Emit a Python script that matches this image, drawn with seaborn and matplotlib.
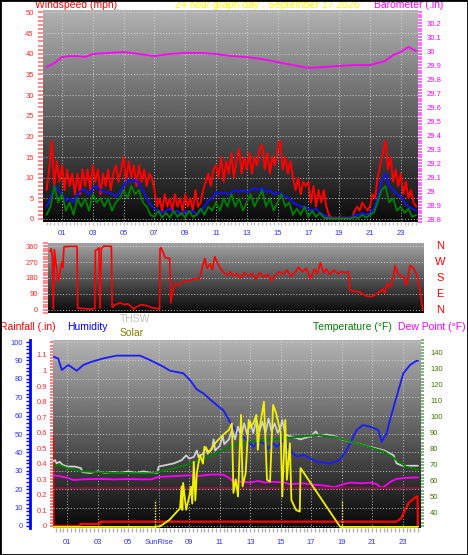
import numpy as np
import pandas as pd
import matplotlib
matplotlib.use("Agg")
import matplotlib.pyplot as plt
import matplotlib.transforms as mtransforms
from matplotlib.ticker import MultipleLocator
from matplotlib.patches import Rectangle
import seaborn as sns

# ------------------------------------------------------------------ data
title_text = "24 hour graph day : September 17 2026"
hour_ticks = [1, 3, 5, 7, 9, 11, 13, 15, 17, 19, 21, 23]
top_hour_labels = ['01', '03', '05', '07', '09', '11', '13', '15', '17', '19', '21', '23']
bottom_hour_labels = ['01', '03', '05', 'SunRise', '09', '11', '13', '15', '17', '19', '21', '23']

# wind gusts (mph), one value every 10 minutes from 00:00 to 24:00
gust_hours = np.arange(0, 24.001, 1 / 6)
wind_high = [7, 12, 19, 8, 14, 9,
             13, 7, 12, 8, 11, 6,
             11, 6, 12, 8, 12, 7,
             13, 9, 12, 6, 11, 8,
             12, 7, 11, 13, 9, 12,
             15, 9, 14, 10, 13, 8,
             13, 9, 12, 8, 11, 10,
             7, 3, 5, 2, 6, 3,
             5, 2, 6, 3, 5, 2,
             6, 3, 5, 2, 7, 3,
             4, 7, 9, 11, 8, 12,
             13, 10, 15, 9, 14, 11,
             16, 10, 14, 17, 11, 15,
             12, 16, 11, 15, 13, 17,
             18, 12, 16, 11, 15, 13,
             17, 19, 12, 15, 11, 14,
             10, 7, 10, 6, 9, 8,
             9, 4, 8, 3, 7, 4,
             7, 3, 1, 0.3, 0.3, 0.3,
             0.3, 0.3, 0.3, 0.3, 0.3, 0.3,
             2, 3, 2, 4, 3, 2,
             3, 6, 5, 10, 13, 16,
             19, 12, 15, 9, 12, 8,
             11, 6, 9, 5, 7, 4,
             3]

# average and low wind speed (mph), one value every 15 minutes
wind_hours = np.arange(0, 24.01, 0.25)
wind_avg = [3, 5, 8, 7, 6, 4.5, 5, 4,
            6, 7, 7, 6, 7.5, 8, 7, 6.5,
            6.5, 6, 5.5, 6.5, 8, 9.5, 9, 9.5,
            8.5, 7, 5, 3.5, 2.5, 2, 1.5, 2,
            2.5, 1.5, 2, 1, 2, 1.5, 2, 1,
            2, 3, 4.5, 5, 6.5, 6, 6.5, 6,
            6.5, 7, 6.5, 7, 6.5, 7, 7.5, 7,
            7.5, 6.5, 7, 6, 6.5, 6, 5.5, 5,
            4, 3.5, 3, 3, 2.5, 2, 2.5, 1.5,
            1, 0.5, 0.2, 0.2, 0.2, 0.2, 0.2, 0.3,
            1, 1, 1.5, 1, 1.5, 2.5, 5, 9,
            11, 8, 7, 6, 5.5, 4, 3, 2.5,
            2]
wind_low = [1, 3, 8, 4, 6, 2, 4, 1,
            5, 3, 5, 2, 6, 4, 5, 3,
            5, 2, 4, 5, 7, 5, 8, 6,
            7, 4, 3, 1, 0.5, 2, 0.3, 1.5,
            0.3, 2, 0.5, 1.5, 0.3, 2, 0.5, 1,
            2.5, 1, 3, 2, 4, 2, 5, 3,
            6, 3, 5, 2, 4, 6, 3, 5,
            7, 3, 5, 2, 4, 6, 3, 4,
            1, 2.5, 1, 3, 0.5, 2, 0.5, 1.5,
            0.3, 0.2, 0.1, 0.1, 0.1, 0.1, 0.1, 0.1,
            0.5, 0.2, 1, 0.3, 1, 1.5, 4, 7,
            8, 4, 5, 2, 3, 1.5, 2.5, 0.5,
            1]

# barometer (in)
baro_hours = [0, 0.5, 1, 1.5, 2, 2.5, 3, 4, 5, 6, 7, 8, 9, 10, 11, 12, 13, 14,
              15, 16, 17, 18, 19, 20, 21, 22, 22.5, 23, 23.5, 24]
baro_inches = [29.886, 29.914, 29.957, 29.964, 29.964, 29.957, 29.979, 29.986,
               29.993, 29.979, 29.964, 29.979, 29.986, 29.986, 29.979, 29.964,
               29.957, 29.943, 29.921, 29.9, 29.879, 29.886, 29.893, 29.9, 29.9,
               29.929, 29.971, 29.993, 30.029, 30.0]
baro_ticks = [28.8, 28.9, 29.0, 29.1, 29.2, 29.3, 29.4, 29.5, 29.6, 29.7, 29.8,
              29.9, 30.0, 30.1, 30.2]
wind_ticks = [0, 5, 10, 15, 20, 25, 30, 35, 40, 45, 50]

# wind direction (degrees)
dir_hours = [0.0, 0.08, 0.15, 0.21, 0.28, 0.4, 0.54, 0.62, 0.7, 0.75, 0.82, 0.9,
             1.3, 1.74, 1.78, 2.2, 2.6, 2.88, 2.92, 3.05, 3.15, 3.22, 3.3, 3.4, 3.5, 3.95,
             4.0, 4.2, 4.5, 4.8, 5.0, 5.2, 5.4, 5.6, 5.9, 6.2, 6.5, 6.8, 7.05,
             7.08, 7.15, 7.3, 7.4, 7.7, 7.77, 7.9, 8.05, 8.3, 8.6, 8.9, 9.2, 9.45, 9.65,
             9.8, 9.97, 10.1, 10.3, 10.45, 10.6, 10.8, 11.0, 11.2, 11.4, 11.6, 11.8,
             12.0, 12.25, 12.5, 12.75, 13.0, 13.25, 13.5, 13.75, 14.0, 14.25, 14.5, 14.75,
             15.0, 15.25, 15.5, 15.75, 16.0, 16.25, 16.5, 16.75, 17.0, 17.2, 17.4, 17.6, 17.8,
             18.0, 18.25, 18.5, 18.75, 19.0, 19.2, 19.3, 19.6, 19.95, 20.2, 20.4, 20.7,
             21.0, 21.2, 21.4, 21.55, 21.7, 21.9, 22.1, 22.2, 22.4, 22.6, 22.8, 22.95,
             23.17, 23.35, 23.6, 23.8, 24.0]
dir_degrees = [330, 345, 300, 5, 340, 250, 160, 200, 240, 270, 240, 356,
               358, 358, 10, 8, 5, 8, 335, 340, 350, 10, 345, 355, 360, 358,
               15, 30, 40, 30, 35, 20, 5, 20, 30, 25, 15, 10, 5,
               345, 350, 320, 295, 290, 40, 110, 150, 140, 165, 160, 175, 170, 185,
               240, 290, 235, 260, 225, 300, 260, 230, 210, 195, 215, 190,
               205, 180, 210, 190, 205, 175, 210, 185, 200, 165, 195, 215,
               200, 225, 190, 210, 240, 215, 235, 175, 230, 205, 265, 210, 230,
               200, 225, 205, 215, 210, 215, 110, 105, 100, 85, 78, 75,
               90, 100, 120, 95, 150, 130, 190, 250, 200, 190, 180, 140,
               250, 240, 200, 120, 0]
dir_ticks = [0, 90, 180, 270, 360]
compass_labels = ['N', 'W', 'S', 'E', 'N']
compass_degrees = [360, 270, 180, 90, 0]

# humidity (%)
hum_hours = [0, 0.13, 0.41, 0.64, 1.07, 1.62, 2.05, 2.6, 3.37, 4.24, 5.77, 6.43, 7.3,
             7.74, 8.61, 9.05, 9.49, 9.92, 10.36, 10.8, 11.23, 11.67, 12.11, 12.77,
             13.2, 13.5, 13.85, 14.2, 14.5, 14.73, 15.17, 15.6, 16.05, 16.5, 16.92,
             17.36, 18.23, 18.89, 19.32, 19.65, 19.98, 20.41, 20.85, 21.4, 21.62,
             21.95, 22.16, 22.6, 23.04, 23.48, 23.91, 24.0]
hum_pct = [92, 92, 91, 84.8, 87.5, 84.4, 87.5, 89.3, 91.1, 92.6, 92.6, 90.2, 86.6,
           84.4, 83, 79.3, 74.3, 72.1, 68.9, 65.8, 63, 56.7, 51.3, 46.7,
           43.1, 46, 45, 42, 45, 43, 46.7, 41.3, 37.7, 38.6, 36.8,
           35, 34, 35.9, 41.3, 46.7, 52.2, 54.9, 54, 52.2, 45.8,
           50.4, 57.6, 70.3, 83, 87.5, 89.8, 89.8]
hum_ticks = [0, 10, 20, 30, 40, 50, 60, 70, 80, 90, 100]

# rainfall (in)
rain_hours = [0.07, 0.1, 1.84, 1.85, 3.15, 3.16, 22.6, 22.9, 23.4, 23.9, 23.97, 24.0]
rain_inches = [0.58, 0, 0, 0.013, 0.013, 0.028, 0.028, 0.05, 0.15, 0.19, 0.19, 0]
rain_ticks = [0, 0.1, 0.2, 0.3, 0.4, 0.5, 0.6, 0.7, 0.8, 0.9, 1.0, 1.1]

# temperature, THSW, dew point (F)
temp_hours = [0, 0.5, 1.0, 2.0, 3.0, 4.0, 5.0, 6.0, 6.6, 7.1, 8.0, 8.6, 9.7, 10.8,
              11.9, 13.0, 14.1, 15.2, 16.3, 17.4, 18.5, 19.6, 20.7, 21.8, 22.6, 23.2, 24.0]
temp_f = [69, 70, 68, 66, 65.5, 65, 65, 64.8, 64.8, 66, 68, 69.4, 73, 77.3,
          82.5, 84.6, 85.6, 86.7, 87.7, 88.7, 87.5, 84.6, 81.4, 78.3, 73.1, 69, 67]
thsw_hours = [0, 0.2, 0.3, 0.5, 0.7, 1.0, 1.5, 1.9, 2.0, 2.5, 3.0, 3.5, 4.0, 4.5, 5.0,
              5.5, 6.0, 6.5, 6.9, 7.0, 7.5, 8.0, 8.5, 8.8, 9.0, 9.3, 9.5, 9.6, 9.9, 10.1,
              10.2, 10.5, 10.6, 10.7, 11.0, 11.2, 11.3, 11.6, 11.8, 12.0, 12.2, 12.4, 12.6,
              12.8, 13.0, 13.2, 13.4, 13.6, 13.8, 14.0, 14.2, 14.4, 14.6, 14.8, 15.0, 15.1,
              15.3, 15.6, 16.0, 16.3, 16.6, 17.0, 17.3, 17.5, 18.0, 18.5, 19.0, 19.6, 20.2,
              20.7, 21.2, 21.8, 22.2, 22.4, 22.6, 23.0, 24.0]
thsw_f = [72, 73, 71, 72, 70, 69, 69, 68, 65.5, 65, 66, 65, 65.5, 65, 66,
          65, 66, 65, 65, 69, 70, 71, 73, 76, 74, 75, 79, 75, 77, 81,
          77, 80, 86, 79, 82, 88, 83, 86, 92, 86, 94, 88, 96,
          89, 97, 90, 98, 91, 97, 90, 99, 91, 96, 90, 94, 98,
          89, 88, 87, 86, 87, 88, 91, 88, 89, 88, 86, 84.5, 83,
          81.5, 80.5, 79, 77, 76, 71, 69.5, 69.5]
dew_hours = [0, 0.5, 1.0, 1.4, 2.0, 3.0, 4.0, 5.0, 6.0, 6.5, 7.0, 8.0, 9.0, 9.5, 10.4,
             11.2, 11.6, 11.9, 12.5, 13.0, 13.5, 14.0, 14.5, 15.2, 15.6, 16.5, 17.4, 18.0,
             18.5, 19.1, 19.6, 20.3, 20.9, 21.3, 21.6, 21.8, 22.2, 22.6, 23.3, 24.0]
dew_f = [63.7, 63, 62, 60.6, 61, 61.3, 61, 61.2, 61, 61, 62.5, 63, 63.5, 63, 64,
         64, 62, 59.6, 59.5, 59, 60, 59, 59.5, 59, 58, 58.5, 57.5, 57,
         56, 58, 59, 58.5, 59, 58, 55.6, 56.5, 59.5, 61.3, 62, 62.2]
ref_line_f = 55.4
temp_ticks = [40, 50, 60, 70, 80, 90, 100, 110, 120, 130, 140]

# solar radiation (W/m2)
solar_hours = [0, 6.75, 7.1, 7.7, 8.1, 8.4, 8.5, 8.55, 8.6, 8.8, 9.05, 9.1, 9.2, 9.3,
               9.4, 9.5, 9.7, 9.9, 10.0, 10.3, 10.7, 11.1, 11.6, 11.8, 11.9, 12.05, 12.2,
               12.4, 12.5, 12.7, 12.9, 13.0, 13.2, 13.4, 13.5, 13.6, 13.9, 14.1, 14.3,
               14.5, 14.7, 15.0, 15.1, 15.3, 15.4, 15.6, 15.7, 15.8, 16.0, 16.25, 16.3,
               18.9, 24.0]
solar_wm2 = [0, 0, 5, 45, 88, 120, 259, 109, 282, 110, 218, 259, 150, 419,
             170, 346, 462, 406, 515, 480, 537, 580, 623, 665, 218, 306, 195,
             719, 260, 346, 687, 640, 665, 719, 495, 623, 804, 302, 290,
             783, 730, 600, 195, 687, 302, 537, 173, 152, 109, 98, 378,
             0, 0]
sunrise_hour = 6.75
sunset_hour = 19.0

# ------------------------------------------------------------------ style
sns.set_theme(style="white")
plt.rcParams['font.family'] = ['Liberation Sans', 'DejaVu Sans']

W, H = 468, 555
fig = plt.figure(figsize=(W / 100, H / 100), dpi=100, facecolor='white')


def px_rect(l, t, r, b):
    return [l / W, 1 - b / H, (r - l) / W, (b - t) / H]


def shade(ax, top, bottom):
    grad = np.linspace(top, bottom, 256).reshape(-1, 1)
    ax.imshow(grad, cmap='gray', vmin=0, vmax=1, aspect='auto', extent=[0, 1, 0, 1],
              transform=ax.transAxes, zorder=0, interpolation='bilinear')


def hide_spines(ax):
    for s in ax.spines.values():
        s.set_visible(False)


TICK = 5.5
GRID = dict(color='#dcdcdc', linewidth=0.7, linestyle=(0, (1, 2)), alpha=0.85)

# ------------------------------------------------------------------ top panel
ax1 = fig.add_axes(px_rect(43, 10, 418, 222))
shade(ax1, 0.70, 0.04)
gust_df = pd.DataFrame({'hour': gust_hours, 'high': wind_high})
wind_df = pd.DataFrame({'hour': wind_hours, 'avg': wind_avg, 'low': wind_low})
sns.lineplot(data=gust_df, x='hour', y='high', ax=ax1, color='#ff0000', linewidth=1.4, estimator=None)
sns.lineplot(data=wind_df, x='hour', y='avg', ax=ax1, color='#1010ff', linewidth=1.3, estimator=None)
sns.lineplot(data=wind_df, x='hour', y='low', ax=ax1, color='#008000', linewidth=1.3, estimator=None)
ax1.set_xlim(-0.234, 24.12)
ax1.set_ylim(-0.73, 50.6)
ax1.set_xlabel('')
ax1.set_ylabel('')
ax1.set_yticks(wind_ticks)
ax1.set_yticklabels([str(v) for v in wind_ticks])
ax1.yaxis.set_minor_locator(MultipleLocator(1))
ax1.tick_params(axis='y', which='both', left=True, length=3.6, width=1.3, color='#ff8080',
                labelcolor='#ff2a2a', labelsize=TICK, pad=3, direction='out')
ax1.set_xticks(hour_ticks)
ax1.set_xticklabels(top_hour_labels)
ax1.xaxis.set_minor_locator(MultipleLocator(0.25))
ax1.tick_params(axis='x', which='both', bottom=True, length=2.2, width=1, color='#c0c0c0',
                labelcolor='#3030ff', labelsize=TICK, pad=3.9, direction='out')
ax1.grid(True, which='major', **GRID)
hide_spines(ax1)

ax1b = ax1.twinx()
sns.lineplot(x=baro_hours, y=baro_inches, ax=ax1b, color='#ff00ff', linewidth=1.3, estimator=None)
ax1b.set_ylim(28.779, 30.293)
ax1b.set_ylabel('')
ax1b.set_yticks(baro_ticks)
ax1b.set_yticklabels([f"{v:g}" for v in baro_ticks])
ax1b.yaxis.set_minor_locator(MultipleLocator(0.02))
ax1b.tick_params(axis='y', which='both', right=True, length=3.2, width=1.3, color='#ff60ff',
                 labelcolor='#ff00ff', labelsize=TICK, pad=3, direction='out')
ax1b.grid(False)
hide_spines(ax1b)

fig.text(35 / W, 1 - 0.5 / H, "Windspeed (mph)", color='#ff0000', fontsize=7.5, ha='left', va='top')
fig.text(267.5 / W, 1 - 0.5 / H, title_text, color='#ffff00', fontsize=7.5, ha='center', va='top')
fig.text(374 / W, 1 - 0.5 / H, "Barometer (.in)", color='#ff00ff', fontsize=7.5, ha='left', va='top')

# ------------------------------------------------------------------ wind direction panel
ax2 = fig.add_axes(px_rect(48, 243, 424, 313))
shade(ax2, 0.64, 0.03)
sns.lineplot(x=dir_hours, y=dir_degrees, ax=ax2, color='#ff0000', linewidth=1.2, estimator=None)
ax2.set_xlim(-0.13, 24.07)
ax2.set_ylim(-16.9, 376.9)
ax2.set_ylabel('')
ax2.set_xticks([])
ax2.set_yticks(dir_ticks)
ax2.set_yticklabels([str(v) for v in dir_ticks])
ax2.yaxis.set_minor_locator(MultipleLocator(15))
ax2.tick_params(axis='y', which='both', left=True, length=3.6, width=1.3, color='#ff8080',
                labelcolor='#ff2a2a', labelsize=TICK, pad=3.6, direction='out')
ax2.yaxis.grid(True, **GRID)
hide_spines(ax2)
blend2 = mtransforms.blended_transform_factory(ax2.transAxes, ax2.transData)
for lab, deg in zip(compass_labels, compass_degrees):
    ax2.text((440 - 48) / 376, deg, lab, transform=blend2, color='#ff0000', fontsize=8,
             ha='center', va='center', clip_on=False)

# ------------------------------------------------------------------ bottom panel
ax3 = fig.add_axes(px_rect(53, 340, 421, 528))
shade(ax3, 0.70, 0.03)
sns.lineplot(x=rain_hours, y=rain_inches, ax=ax3, color='#ff0000', linewidth=1.6, estimator=None, sort=False)
ax3.set_xlim(0.066, 24.2)
ax3.set_ylim(-0.0129, 1.196)
ax3.set_ylabel('')
ax3.set_yticks(rain_ticks)
ax3.set_yticklabels([f"{v:g}" for v in rain_ticks])
ax3.yaxis.set_minor_locator(MultipleLocator(0.02))
ax3.tick_params(axis='y', which='both', left=True, length=2.2, width=1.3, color='#ff7070',
                labelcolor='#ff2a2a', labelsize=TICK, pad=2.2, direction='out')
ax3.set_xticks(hour_ticks)
ax3.set_xticklabels(bottom_hour_labels)
ax3.xaxis.set_minor_locator(MultipleLocator(0.25))
ax3.tick_params(axis='x', which='both', bottom=True, length=2.9, width=1, color='#b0b0b0',
                labelcolor='#3030ff', labelsize=TICK, pad=4.7, direction='out')
ax3.xaxis.grid(True, which='major', **GRID)
hide_spines(ax3)

axh = ax3.twinx()
hide_spines(axh)
axh.yaxis.tick_left()
axh.yaxis.set_label_position('left')
axh.spines['left'].set_visible(True)
axh.spines['left'].set_position(('outward', 16.6))
axh.spines['left'].set_color('#0000ff')
axh.spines['left'].set_linewidth(2)
sns.lineplot(x=hum_hours, y=hum_pct, ax=axh, color='#1a1aff', linewidth=1.3, estimator=None)
axh.set_ylim(-1.09, 101.1)
axh.set_ylabel('')
axh.set_yticks(hum_ticks)
axh.set_yticklabels([str(v) for v in hum_ticks])
axh.yaxis.set_minor_locator(MultipleLocator(2))
axh.tick_params(axis='y', which='both', left=True, right=False, length=2.9, width=1, color='#0000ff',
                labelcolor='#3333ff', labelsize=TICK, pad=2.2, direction='out')
axh.yaxis.grid(True, **GRID)

axt = ax3.twinx()
hide_spines(axt)
sns.lineplot(x=thsw_hours, y=thsw_f, ax=axt, color='#d0d0d0', linewidth=1.3, estimator=None)
sns.lineplot(x=temp_hours, y=temp_f, ax=axt, color='#008000', linewidth=1.3, estimator=None)
sns.lineplot(x=dew_hours, y=dew_f, ax=axt, color='#ff00ff', linewidth=1.3, estimator=None)
axt.axhline(ref_line_f, color='#8a1538', linewidth=1.3)
axt.set_ylim(30.6, 148.1)
axt.set_ylabel('')
axt.set_yticks(temp_ticks)
axt.set_yticklabels([str(v) for v in temp_ticks])
axt.yaxis.set_minor_locator(MultipleLocator(2))
axt.tick_params(axis='y', which='both', right=True, length=2.2, width=1.3, color='#70b070',
                labelcolor='#4a7000', labelsize=TICK, pad=4.3, direction='out')
axt.grid(False)

axs = ax3.twinx()
hide_spines(axs)
sns.lineplot(x=solar_hours, y=solar_wm2, ax=axs, color='#f2f200', linewidth=1.3, estimator=None)
axs.set_ylim(-7, 1200)
axs.set_ylabel('')
axs.set_yticks([])
axs.grid(False)
for h in (sunrise_hour, sunset_hour):
    axs.axvline(h, ymin=0, ymax=0.15, color='#ffff66', linewidth=1, linestyle=(0, (1, 1)))

fig.text(0 / W, 1 - 327 / H, "Rainfall (.in)", color='#ff0000', fontsize=7.5, ha='left', va='center')
fig.text(67 / W, 1 - 327 / H, "Humidity", color='#0000ff', fontsize=7.5, ha='left', va='center')
fig.text(120 / W, 1 - 319 / H, "THSW", color='#c0c0c0', fontsize=7.5, ha='left', va='center')
fig.text(120 / W, 1 - 333 / H, "Solar", color='#808000', fontsize=7.5, ha='left', va='center')
fig.text(313 / W, 1 - 327 / H, "Temperature (°F)", color='#008000', fontsize=7.5, ha='left', va='center')
fig.text(398 / W, 1 - 327 / H, "Dew Point (°F)", color='#ff00ff', fontsize=7.5, ha='left', va='center')

fig.patches.append(Rectangle((0, 0), 1, 1, transform=fig.transFigure, fill=False,
                             edgecolor='black', linewidth=2, zorder=10))

fig.savefig("out.png", dpi=100, facecolor='white')
